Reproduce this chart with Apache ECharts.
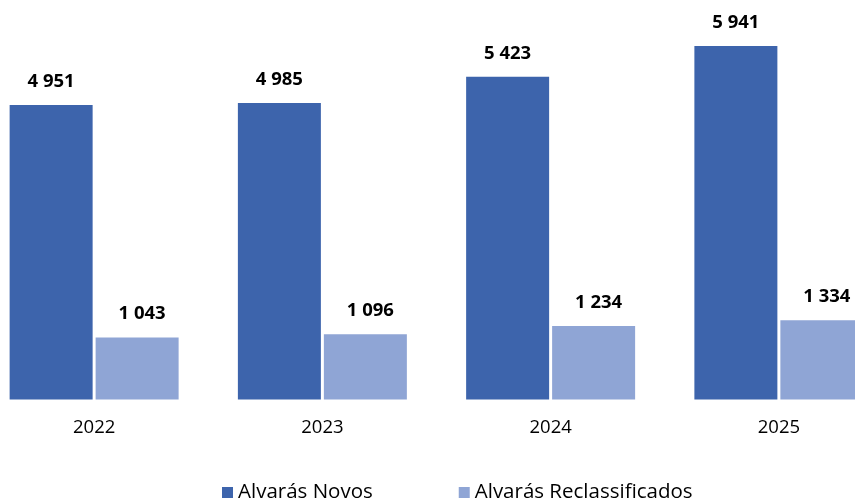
<!DOCTYPE html>
<html>
<head>
<meta charset="utf-8">
<script src="https://cdn.jsdelivr.net/npm/echarts@6/dist/echarts.min.js"></script>
<style>
    html, body { margin: 0; padding: 0; background: #fff; overflow: hidden; }
    /* 画布比窗口宽，左右两侧被裁掉一部分 */
    #chart { position: absolute; left: -20px; top: 0; width: 913px; height: 499px; }
</style>
</head>
<body>
<div id="chart"></div>
<script>
// 数据
const years = ['2022', '2023', '2024', '2025'];
const alvarasNovos = [4951, 4985, 5423, 5941];
const alvarasReclassificados = [1043, 1096, 1234, 1334];

const FONT = '"Open Sans", "Liberation Sans", sans-serif';

// 千位用空格分隔
function fmt(v) {
    return String(v).replace(/\B(?=(\d{3})+(?!\d))/g, ' ');
}

const chart = echarts.init(document.getElementById('chart'));

const labelStyle = {
    show: true,
    position: 'top',
    distance: 14,
    fontFamily: FONT,
    fontSize: 18.5,
    fontWeight: 'bold',
    color: '#000',
    formatter: p => fmt(p.value)
};

chart.setOption({
    animation: false,
    grid: {
        left: 0,
        right: 0,
        top: 42.5,
        bottom: 99.5
    },
    legend: {
        left: 237,
        top: 477,
        itemWidth: 11,
        itemHeight: 11,
        itemGap: 86,
        icon: 'rect',
        textStyle: {
            fontFamily: FONT,
            fontSize: 20.5,
            color: '#000'
        },
        data: ['Alvarás Novos', 'Alvarás Reclassificados']
    },
    xAxis: {
        type: 'category',
        data: years,
        axisLine: { show: false },
        axisTick: { show: false },
        axisLabel: {
            margin: 19,
            fontFamily: FONT,
            fontSize: 18.5,
            color: '#000'
        }
    },
    yAxis: {
        type: 'value',
        min: 0,
        max: 6000,
        show: false,
        splitLine: { show: false }
    },
    series: [
        {
            name: 'Alvarás Novos',
            type: 'bar',
            data: alvarasNovos,
            barWidth: 83,
            barGap: '3.6%',
            itemStyle: { color: '#3D64AC' },
            label: labelStyle
        },
        {
            name: 'Alvarás Reclassificados',
            type: 'bar',
            data: alvarasReclassificados,
            barWidth: 83,
            itemStyle: { color: '#8FA5D5' },
            label: Object.assign({}, labelStyle, { offset: [5, 0] })
        }
    ]
});
</script>
</body>
</html>
